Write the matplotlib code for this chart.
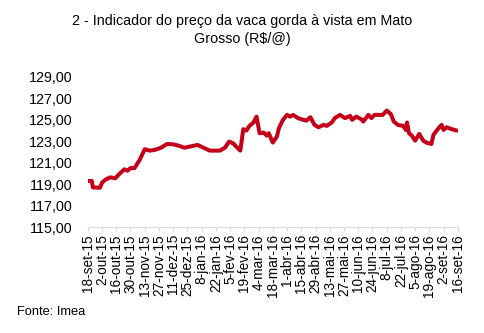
import numpy as np
import pandas as pd
import matplotlib
matplotlib.use("Agg")
import matplotlib.pyplot as plt

# datas e valores (R$/@)
datas = ["2015-09-18", "2015-09-22", "2015-09-23", "2015-09-30", "2015-10-02",
         "2015-10-05", "2015-10-10", "2015-10-15", "2015-10-19", "2015-10-24",
         "2015-10-27", "2015-10-30", "2015-11-03", "2015-11-08", "2015-11-13",
         "2015-11-18", "2015-11-23", "2015-11-29", "2015-12-05", "2015-12-11",
         "2015-12-17", "2015-12-22", "2015-12-24", "2016-01-04", "2016-01-16",
         "2016-01-26", "2016-01-31", "2016-02-04", "2016-02-08", "2016-02-11",
         "2016-02-15", "2016-02-18", "2016-02-21", "2016-02-24", "2016-02-28",
         "2016-03-02", "2016-03-05", "2016-03-09", "2016-03-12", "2016-03-14",
         "2016-03-18", "2016-03-22", "2016-03-24", "2016-03-28", "2016-04-01",
         "2016-04-04", "2016-04-07", "2016-04-12", "2016-04-17", "2016-04-20",
         "2016-04-24", "2016-04-28", "2016-05-02", "2016-05-07", "2016-05-10",
         "2016-05-15", "2016-05-18", "2016-05-23", "2016-05-28", "2016-06-02",
         "2016-06-04", "2016-06-08", "2016-06-13", "2016-06-15", "2016-06-20",
         "2016-06-23", "2016-06-26", "2016-06-30", "2016-07-04", "2016-07-08",
         "2016-07-12", "2016-07-15", "2016-07-19", "2016-07-24", "2016-07-27",
         "2016-07-28", "2016-07-30", "2016-08-02", "2016-08-05", "2016-08-09",
         "2016-08-13", "2016-08-16", "2016-08-21", "2016-08-23", "2016-08-28",
         "2016-08-31", "2016-09-02", "2016-09-05", "2016-09-10", "2016-09-15"]
valores = [119.30, 119.30, 118.70, 118.67, 119.14,
           119.40, 119.64, 119.55, 119.95, 120.39,
           120.26, 120.50, 120.50, 121.26, 122.26,
           122.13, 122.20, 122.40, 122.75, 122.72,
           122.57, 122.40, 122.44, 122.66, 122.13,
           122.13, 122.41, 122.97, 122.81, 122.50,
           122.13, 124.13, 124.00, 124.44, 124.75,
           125.30, 123.75, 123.81, 123.53, 123.75,
           122.88, 123.44, 124.22, 125.00, 125.46,
           125.30, 125.46, 125.15, 125.00, 124.93,
           125.24, 124.53, 124.31, 124.53, 124.44,
           124.75, 125.16, 125.46, 125.16, 125.37,
           125.00, 125.30, 125.06, 124.84, 125.46,
           125.16, 125.46, 125.46, 125.46, 125.86,
           125.55, 124.84, 124.53, 124.44, 124.06,
           124.75, 123.75, 123.50, 123.06, 123.69,
           123.06, 122.88, 122.75, 123.60, 124.22,
           124.53, 124.06, 124.31, 124.13, 124.00]

rotulos_x = ["18-set-15", "2-out-15", "16-out-15", "30-out-15", "13-nov-15",
             "27-nov-15", "11-dez-15", "25-dez-15", "8-jan-16", "22-jan-16",
             "5-fev-16", "19-fev-16", "4-mar-16", "18-mar-16", "1-abr-16",
             "15-abr-16", "29-abr-16", "13-mai-16", "27-mai-16", "10-jun-16",
             "24-jun-16", "8-jul-16", "22-jul-16", "5-ago-16", "19-ago-16",
             "2-set-16", "16-set-16"]
ticks_y = [115, 117, 119, 121, 123, 125, 127, 129]

plt.rcParams['font.family'] = ['Liberation Sans', 'DejaVu Sans']

x = pd.to_datetime(datas)
ticks_x = pd.date_range("2015-09-18", periods=len(rotulos_x), freq="14D")

fig = plt.figure(figsize=(4.85, 3.33), dpi=100)
ax = fig.add_axes([0.181, 0.318, 0.763, 0.451])

ax.plot(x, valores, color="#c4001a", linewidth=2.9, solid_capstyle="round")

ax.set_xlim(ticks_x[0], ticks_x[-1])
ax.set_ylim(115, 129)
ax.set_yticks(ticks_y)
ax.set_yticklabels([f"{v:.2f}".replace(".", ",") for v in ticks_y], fontsize=10.3)
ax.set_xticks(ticks_x)
ax.set_xticklabels(rotulos_x, rotation=90, fontsize=9.8)

for s in ["top", "right", "left"]:
    ax.spines[s].set_visible(False)
ax.spines["bottom"].set_color("#d9d9d9")
ax.tick_params(axis="y", length=0, pad=11)
ax.tick_params(axis="x", length=3, color="#d9d9d9", pad=2)

fig.text(0.5, 0.957, "2 - Indicador do preço da vaca gorda à vista em Mato\nGrosso (R$/@)",
         ha="center", va="top", fontsize=10.3, linespacing=1.35)
fig.text(0.035, 0.045, "Fonte: Imea", fontsize=9.3, ha="left", va="bottom")

fig.savefig("out.png", dpi=100)
